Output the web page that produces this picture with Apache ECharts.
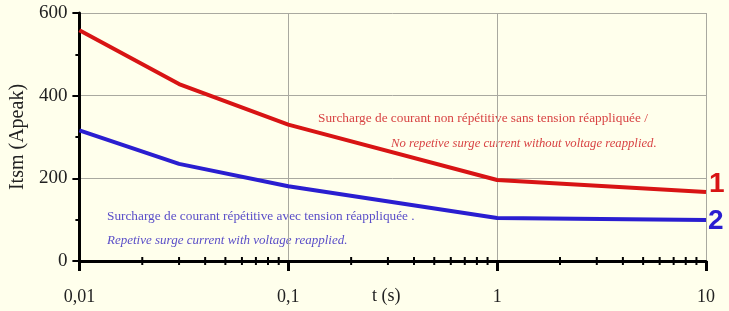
<!DOCTYPE html>
<html>
<head>
<meta charset="utf-8">
<script src="https://cdn.jsdelivr.net/npm/echarts@6/dist/echarts.min.js"></script>
<style>
html,body{margin:0;padding:0;background:#FFFFEC;}
#c{width:729px;height:311px;}
</style>
</head>
<body>
<div id="c"></div>
<script>
// Data
var times = [0.01, 0.03, 0.1, 1, 10];
var nonRepetitive = [558, 428, 330, 196, 167];   // curve 1
var repetitive = [316, 235, 181, 104, 99];       // curve 2
var minorTickTimes = [0.02,0.03,0.04,0.05,0.06,0.07,0.08,0.09,0.2,0.3,0.4,0.5,0.6,0.7,0.8,0.9,2,3,4,5,6,7,8,9];
var xTickLabels = {"0.01":"0,01","0.1":"0,1","1":"1","10":"10"};
var yTicks = [0, 200, 400, 600];

var serif = '"Liberation Serif","DejaVu Serif",serif';
var chart = echarts.init(document.getElementById('c'));

function pairs(xs, ys){ return xs.map(function(x,i){ return [x, ys[i]]; }); }

chart.setOption({
  backgroundColor: '#FFFFEC',
  animation: false,
  grid: {left: 76, right: 23, top: 13, bottom: 50},
  xAxis: {
    type: 'log', logBase: 10, min: 0.01, max: 10,
    axisLine: {show: true, lineStyle: {color: '#000', width: 3}},
    axisTick: {show: true, length: 10, lineStyle: {color: '#000', width: 3}},
    axisLabel: {
      margin: 27, fontFamily: serif, fontSize: 18, color: '#222',
      formatter: function(v){ var k = String(+v.toPrecision(3)); return xTickLabels[k] !== undefined ? xTickLabels[k] : ''; }
    },
    splitLine: {show: true, lineStyle: {color: '#a9a9a0', width: 1}}
  },
  yAxis: {
    type: 'value', min: 0, max: 600, interval: 200,
    name: 'Itsm (Apeak)', nameLocation: 'middle', nameGap: 48,
    nameTextStyle: {fontFamily: serif, fontSize: 20, color: '#222'},
    axisLine: {show: true, lineStyle: {color: '#000', width: 3}},
    axisTick: {show: true, length: 7, lineStyle: {color: '#000', width: 2}},
    minorTick: {show: true, splitNumber: 2, length: 4, lineStyle: {color: '#000', width: 2}},
    axisLabel: {margin: 12, fontFamily: serif, fontSize: 19, color: '#222',
      formatter: function(v){ return yTicks.indexOf(v) >= 0 ? String(v) : ''; }},
    splitLine: {show: true, lineStyle: {color: '#a9a9a0', width: 1}}
  },
  graphic: [
    {type: 'text', left: 372, top: 287, style: {text: 't (s)', font: '18px ' + serif, fill: '#222'}},
    {type: 'text', left: 318, top: 112, style: {text: 'Surcharge de courant non répétitive sans tension réappliquée /', font: '13.3px ' + serif, fill: '#d84444'}},
    {type: 'text', left: 391, top: 137, style: {text: 'No repetive surge current without voltage reapplied.', font: 'italic 12.7px ' + serif, fill: '#d84444'}},
    {type: 'text', left: 107, top: 210, style: {text: 'Surcharge de courant répétitive avec tension réappliquée .', font: '13.3px ' + serif, fill: '#5a4ec8'}},
    {type: 'text', left: 107, top: 234, style: {text: 'Repetive surge current with voltage reapplied.', font: 'italic 13px ' + serif, fill: '#5a4ec8'}}
  ],
  series: [
    {
      type: 'line', data: pairs(times, nonRepetitive), symbol: 'none', smooth: false,
      lineStyle: {color: '#d81414', width: 4},
      endLabel: {show: true, formatter: '1', distance: 3, offset: [0, -8], fontFamily: '"Liberation Sans",Arial,sans-serif', fontWeight: 'bold', fontSize: 28, color: '#d81414'}
    },
    {
      type: 'line', data: pairs(times, repetitive), symbol: 'none', smooth: false,
      lineStyle: {color: '#2a1ed0', width: 4},
      endLabel: {show: true, formatter: '2', distance: 2, offset: [0, 1], fontFamily: '"Liberation Sans",Arial,sans-serif', fontWeight: 'bold', fontSize: 28, color: '#2a1ed0'}
    },
    {
      type: 'custom', silent: true, clip: false, z: 5,
      data: minorTickTimes.map(function(t){ return [t, 0]; }),
      renderItem: function(params, api){
        var p = api.coord([api.value(0), api.value(1)]);
        return {type: 'line', shape: {x1: p[0], y1: p[1] - 4, x2: p[0], y2: p[1] + 4}, style: {stroke: '#000', lineWidth: 2}};
      }
    }
  ]
});
</script>
</body>
</html>
